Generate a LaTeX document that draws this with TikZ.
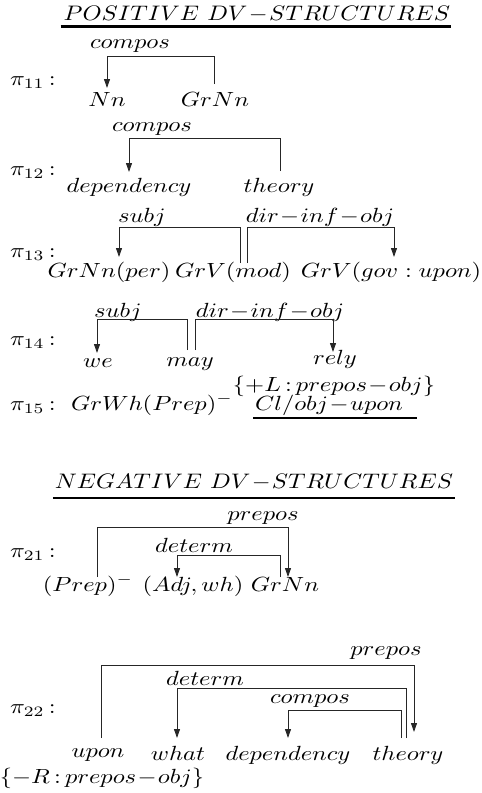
\documentclass[tikz,border=0pt]{standalone}
\usepackage{graphicx}
\usetikzlibrary{arrows.meta}
\newcommand{\mth}[1]{\scalebox{2.45}[2.05]{$#1$}}
\newcommand{\mtt}[1]{\scalebox{2.42}[2.1]{$#1$}}
\newcommand{\mi}{\!-\!}
\tikzset{
  txt/.style={inner sep=0pt, outer sep=0pt, anchor=base},
  pilbl/.style={inner sep=0pt, outer sep=0pt, anchor=base west},
  lnk/.style={line width=0.9pt, draw=black!85},
  arr/.style={lnk, -{Triangle[width=6pt,length=9pt]}},
  uline/.style={line width=2.6pt},
}
\begin{document}
\begin{tikzpicture}[x=1pt,y=-1pt]
\path[use as bounding box] (0,0) rectangle (482,793);

% ---------- positive ----------
\node[txt] (t1) at (257,20) {\mtt{POSITIVE\ DV\mi STRUCTURES}};
\draw[uline] ([shift={(-3,6.5)}]t1.base west) -- ([shift={(1,6.5)}]t1.base east);

% pi11
\node[pilbl] (p11) at (10,85) {\mth{\pi_{11}\,{:}}};
\node[txt] (c11) at (130,48) {\mth{compos}};
\node[txt] (nn) at (107,106) {\mth{Nn}};
\node[txt] (grnn1) at (215,106) {\mth{GrNn}};
\draw[arr] ([shift={(-1,-22)}]grnn1.base) -- ++(0,-28) -| ([shift={(0,-18)}]nn.base);

% pi12
\node[pilbl] (p12) at (10,175) {\mth{\pi_{12}\,{:}}};
\node[txt] (c12) at (152,131) {\mth{compos}};
\node[txt] (dep12) at (129,192) {\mth{dependency}};
\node[txt] (th12) at (279,192) {\mth{theory}};
\draw[arr] ([shift={(1,-21)}]th12.base) -- ++(0,-33) -| ([shift={(0,-20)}]dep12.base);

% pi13
\node[pilbl] (p13) at (10,257) {\mth{\pi_{13}\,{:}}};
\node[txt] (s13) at (142,222) {\mth{subj}};
\node[txt] (d13) at (320,222) {\mth{dir\mi inf\mi obj}};
\node[txt] (gnp) at (109,277) {\mth{GrNn(per)}};
\node[txt] (gvm) at (233,277) {\mth{GrV(mod)}};
\node[txt] (gvg) at (391,277) {\mth{GrV(gov:upon)}};
\draw[arr] ([shift={(7,-14)}]gvm.base) -- ++(0,-36) -| ([shift={(10,-20)}]gnp.base);
\draw[arr] ([shift={(14,-14)}]gvm.base) -- ++(0,-36) -| ([shift={(3,-20)}]gvg.base);

% pi14
\node[pilbl] (p14) at (10,345) {\mth{\pi_{14}\,{:}}};
\node[txt] (s14) at (118,317) {\mth{subj}};
\node[txt] (d14) at (270,317) {\mth{dir\mi inf\mi obj}};
\node[txt] (we) at (98,367) {\mth{we}};
\node[txt] (may) at (190,366) {\mth{may}};
\node[txt] (rely) at (335,364) {\mth{rely}};
\node[txt] (lp) at (334,391) {\mth{\{+L\,{:}\,prepos\mi obj\}}};
\draw[arr] ([shift={(-3,-16)}]may.base) -- ++(0,-31) -| ([shift={(-1,-14)}]we.base);
\draw[arr] ([shift={(5,-16)}]may.base) -- ++(0,-31) -| ([shift={(-2,-12)}]rely.base);

% pi15
\node[pilbl] (p15) at (10,410) {\mth{\pi_{15}\,{:}}};
\node[txt] (gwh) at (152,410) {\mth{GrWh(Prep)^-}};
\node[txt] (clo) at (329,410) {\mth{Cl/obj\mi upon}};
\draw[uline, line width=2pt] ([shift={(-2,8)}]clo.base west) -- ([shift={(14,8)}]clo.base east);

% ---------- negative ----------
\node[txt] (t2) at (254,488) {\mtt{NEGATIVE\ DV\mi STRUCTURES}};
\draw[uline] ([shift={(-2,10)}]t2.base west) -- ([shift={(2,10)}]t2.base east);

% pi21
\node[pilbl] (p21) at (10,557) {\mth{\pi_{21}\,{:}}};
\node[txt] (pp21) at (263,520) {\mth{prepos}};
\node[txt] (dt21) at (194,552) {\mth{determ}};
\node[txt] (prep) at (88,591) {\mth{(Prep)^-}};
\node[txt] (adj) at (193,591) {\mth{(Adj,wh)}};
\node[txt] (grnn2) at (285,591) {\mth{GrNn}};
\draw[arr] ([shift={(9,-14)}]prep.base) -- ++(0,-50) -| ([shift={(3,-14)}]grnn2.base);
\draw[arr] ([shift={(-5,-14)}]grnn2.base) -- ++(0,-22) -| ([shift={(-16,-14)}]adj.base);

% pi22
\node[pilbl] (p22) at (10,713) {\mth{\pi_{22}\,{:}}};
\node[txt] (pp22) at (386,655) {\mth{prepos}};
\node[txt] (dt22) at (205,685) {\mth{determ}};
\node[txt] (cp22) at (310,703) {\mth{compos}};
\node[txt] (upon) at (98,757) {\mth{upon}};
\node[txt] (what) at (178,760) {\mth{what}};
\node[txt] (dep22) at (288,760) {\mth{dependency}};
\node[txt] (th22) at (408,760) {\mth{theory}};
\node[txt] (rp) at (102,783) {\mth{\{-R\,{:}\,prepos\mi obj\}}};
\draw[arr] ([shift={(3,-19)}]upon.base) -- ++(0,-73) -| ([shift={(6,-28)}]th22.base);
\draw[arr] ([shift={(-2,-22)}]th22.base) -- ++(0,-50) -| ([shift={(-1,-22)}]what.base);
\draw[arr] ([shift={(-7,-22)}]th22.base) -- ++(0,-28) -| ([shift={(0,-22)}]dep22.base);
\end{tikzpicture}
\end{document}
